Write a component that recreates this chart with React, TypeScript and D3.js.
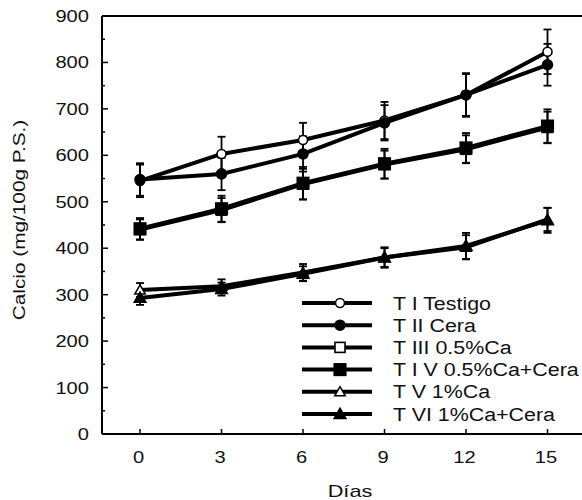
import React from 'react';
import * as d3 from 'd3';

const days = [0, 3, 6, 9, 12, 15];

const tI = [545, 603, 633, 675, 730, 823];
const tIErr = [35, 37, 37, 40, 45, 48];
const tII = [548, 560, 603, 670, 730, 795];
const tIIErr = [35, 35, 38, 38, 47, 45];
const tIII = [440, 482, 538, 580, 613, 660];
const tIIIErr = [22, 26, 33, 30, 30, 34];
const tIV = [442, 485, 540, 582, 616, 663];
const tIVErr = [23, 28, 35, 32, 32, 36];
const tV = [310, 318, 348, 380, 402, 462];
const tVErr = [15, 15, 18, 20, 26, 25];
const tVI = [293, 312, 345, 380, 405, 460];
const tVIErr = [15, 14, 16, 22, 28, 27];

const seriesNames = ['T I Testigo', 'T II Cera', 'T III 0.5%Ca', 'T I V 0.5%Ca+Cera', 'T V 1%Ca', 'T VI 1%Ca+Cera'];
const seriesValues = [tI, tII, tIII, tIV, tV, tVI];
const seriesErrors = [tIErr, tIIErr, tIIIErr, tIVErr, tVErr, tVIErr];
const seriesMarkers = ['circle', 'circle', 'square', 'square', 'triangle', 'triangle'];
const seriesFilled = [false, true, false, true, false, true];

const yTicks = [0, 100, 200, 300, 400, 500, 600, 700, 800, 900];
const yMinor = [50, 150, 250, 350, 450, 550, 650, 750, 850];

const W = 582;
const H = 500;
const left = 102;
const top = 16;
const bottom = 434;
const font = '"Liberation Sans", Arial, sans-serif';
const wide = 1.22; // the original font is wider than Arial

const x = d3.scaleLinear().domain([-1.4, 16.27]).range([left, W]);
const y = d3.scaleLinear().domain([0, 900]).range([bottom, top]);

// text stretched horizontally (in its own frame)
function WText({ x, y, size, anchor, rotate, sx, children }: any) {
  const r = rotate ? ` rotate(${rotate})` : '';
  return (
    <text
      transform={`translate(${x},${y})${r} scale(${sx || wide},1)`}
      fontSize={size}
      textAnchor={anchor || 'start'}
      fill="#111"
    >
      {children}
    </text>
  );
}

function Marker({ kind, filled, cx, cy }: { kind: string; filled: boolean; cx: number; cy: number }) {
  const fill = filled ? '#000' : '#fff';
  if (kind === 'circle') {
    return <circle cx={cx} cy={cy} r={filled ? 5 : 4.5} fill={fill} stroke="#000" strokeWidth={1.6} />;
  }
  if (kind === 'square') {
    const s = filled ? 11.5 : 10;
    return <rect x={cx - s / 2} y={cy - s / 2} width={s} height={s} fill={fill} stroke="#000" strokeWidth={1.6} />;
  }
  const sym = d3.symbol(d3.symbolTriangle, filled ? 60 : 48)();
  return <path d={sym || ''} transform={`translate(${cx},${cy + 1})`} fill={fill} stroke="#000" strokeWidth={1.5} />;
}

export default function App() {
  const line = d3
    .line<number>()
    .x((_, i) => x(days[i]))
    .y((d) => y(d));

  const legendX0 = 302;
  const legendX1 = 372;
  const legendY0 = 303;
  const legendStep = 22.2;

  return (
    <div style={{ position: 'absolute', left: 0, top: 0 }}>
      <svg width={W} height={H} style={{ display: 'block', background: '#fff' }} fontFamily={font}>
        {/* frame */}
        <line x1={left} y1={top} x2={W} y2={top} stroke="#000" strokeWidth={2} />
        <line x1={left} y1={top} x2={left} y2={bottom} stroke="#000" strokeWidth={2} />
        <line x1={left} y1={bottom} x2={W} y2={bottom} stroke="#000" strokeWidth={2} />

        {/* y ticks */}
        {yTicks.map((t) => (
          <g key={'y' + t}>
            <line x1={left} x2={left + 6} y1={y(t)} y2={y(t)} stroke="#000" strokeWidth={1.5} />
            <WText x={89} y={y(t) + 6} size={16.5} anchor="end">
              {t}
            </WText>
          </g>
        ))}
        {yMinor.map((t) => (
          <line key={'ym' + t} x1={left} x2={left + 3} y1={y(t)} y2={y(t)} stroke="#000" strokeWidth={1.5} />
        ))}

        {/* x ticks */}
        {days.map((d) => (
          <g key={'x' + d}>
            <line x1={x(d)} x2={x(d)} y1={bottom} y2={bottom - 5} stroke="#000" strokeWidth={1.5} />
            <WText x={x(d) - 1.5} y={bottom + 29} size={16.5} anchor="middle">
              {d}
            </WText>
          </g>
        ))}

        <WText x={350} y={497} size={17} anchor="middle" sx={1.28}>
          Días
        </WText>
        <WText x={25} y={220} size={16.5} anchor="middle" rotate={-90} sx={1.26}>
          Calcio (mg/100g P.S.)
        </WText>

        {/* series lines */}
        {seriesValues.map((vals, si) => (
          <path key={'l' + si} d={line(vals) || ''} fill="none" stroke="#000" strokeWidth={4} />
        ))}

        {/* error bars */}
        {seriesValues.map((vals, si) =>
          vals.map((v, i) => {
            const e = seriesErrors[si][i];
            const cx = x(days[i]);
            return (
              <g key={'e' + si + '-' + i} stroke="#000" strokeWidth={1.8}>
                <line x1={cx} x2={cx} y1={y(v + e)} y2={y(v - e)} />
                <line x1={cx - 4} x2={cx + 4} y1={y(v + e)} y2={y(v + e)} />
                <line x1={cx - 4} x2={cx + 4} y1={y(v - e)} y2={y(v - e)} />
              </g>
            );
          })
        )}

        {/* markers */}
        {seriesValues.map((vals, si) =>
          vals.map((v, i) => (
            <Marker key={'m' + si + '-' + i} kind={seriesMarkers[si]} filled={seriesFilled[si]} cx={x(days[i])} cy={y(v)} />
          ))
        )}

        {/* legend */}
        {seriesNames.map((name, i) => {
          const ly = legendY0 + i * legendStep;
          return (
            <g key={'lg' + i}>
              <line x1={legendX0} x2={legendX1} y1={ly} y2={ly} stroke="#000" strokeWidth={4} />
              <Marker kind={seriesMarkers[i]} filled={seriesFilled[i]} cx={(legendX0 + legendX1) / 2 + 3} cy={ly} />
              <WText x={393} y={ly + 6.5} size={18} sx={1.19}>
                {name}
              </WText>
            </g>
          );
        })}
      </svg>
    </div>
  );
}
